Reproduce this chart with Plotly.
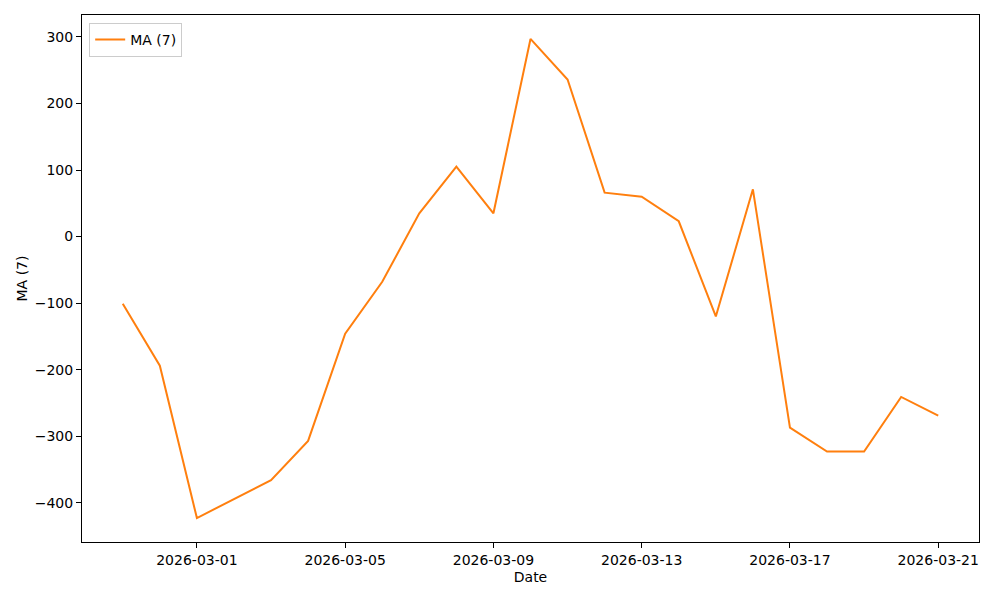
import plotly.graph_objects as go
import pandas as pd

dates = ["2026-02-27", "2026-02-28", "2026-03-01", "2026-03-03", "2026-03-04",
         "2026-03-05", "2026-03-06", "2026-03-07", "2026-03-08", "2026-03-09",
         "2026-03-10", "2026-03-11", "2026-03-12", "2026-03-13", "2026-03-14",
         "2026-03-15", "2026-03-16", "2026-03-17", "2026-03-18", "2026-03-19",
         "2026-03-20", "2026-03-21"]
ma7 = [-101, -194, -423, -366, -307,
       -146, -68, 35, 105, 35,
       297, 236, 66, 60, 23,
       -120, 71, -287, -323, -323,
       -241, -269]
series_name = "MA (7)"
x_title = "Date"
y_title = "MA (7)"

d = pd.to_datetime(dates)
span = d.max() - d.min()
xr = [d.min() - span * 0.05, d.max() + span * 0.05]
ymin, ymax = min(ma7), max(ma7)
ypad = (ymax - ymin) * 0.05
yr = [ymin - ypad, ymax + ypad]

fig = go.Figure()
fig.add_trace(go.Scatter(x=d, y=ma7, mode="lines", name=series_name,
                         line=dict(color="#ff7f0e", width=2)))

axis_common = dict(showline=True, linecolor="black", linewidth=1, mirror=True,
                   ticks="outside", ticklen=5, tickcolor="black", showgrid=False,
                   zeroline=False, tickfont=dict(size=14, color="black"),
                   title_font=dict(size=14, color="black"))

fig.update_layout(
    width=1000, height=600,
    margin=dict(l=74, r=29, t=7, b=66),
    paper_bgcolor="white", plot_bgcolor="white",
    font=dict(family="DejaVu Sans", size=14, color="black"),
    showlegend=True,
    legend=dict(x=0.008, y=0.985, xanchor="left", yanchor="top",
                bordercolor="#cccccc", borderwidth=1, bgcolor="rgba(255,255,255,0.8)",
                font=dict(size=14), tracegroupgap=0, itemwidth=30),
    xaxis=dict(range=xr, tick0="2026-03-01", dtick=4 * 86400000,
               tickformat="%Y-%m-%d", title=dict(text=x_title, standoff=5),
               **axis_common),
    yaxis=dict(range=yr, tick0=0, dtick=100, title=dict(text=y_title, standoff=3),
               **axis_common),
)

fig.write_html("out.html")
